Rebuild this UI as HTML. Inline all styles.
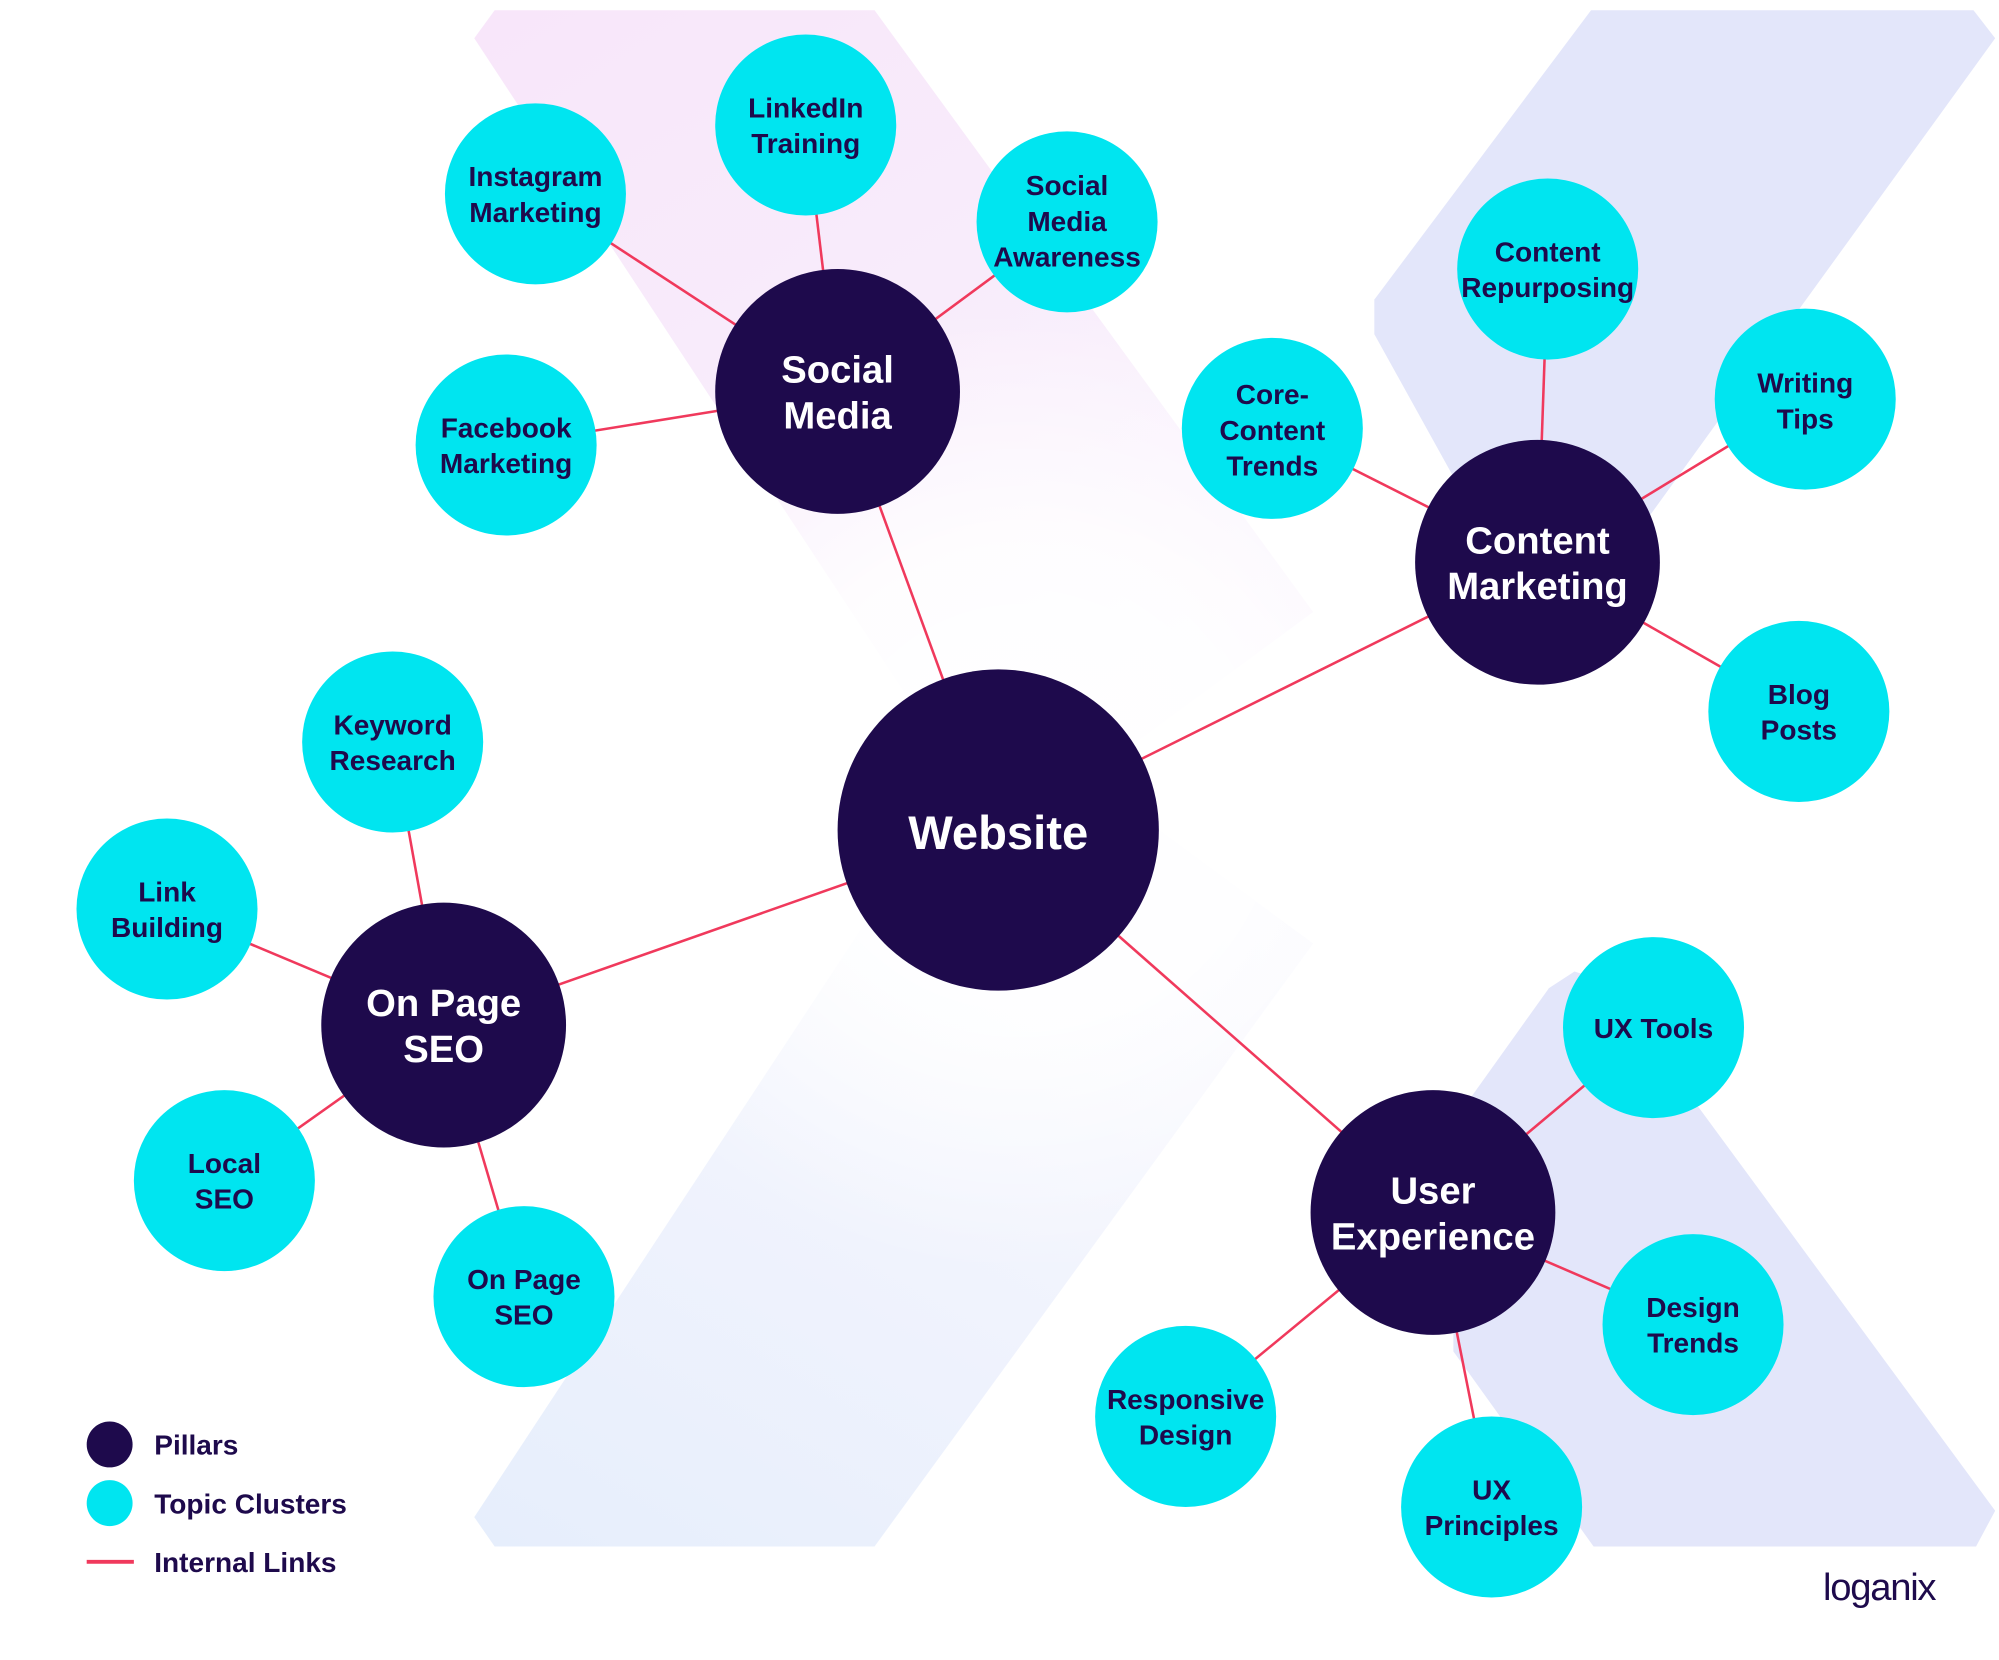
<!DOCTYPE html>
<html><head><meta charset="utf-8"><style>
html,body{margin:0;padding:0;background:#fff;}
svg{display:block;}
text{font-family:"Liberation Sans",sans-serif;font-weight:bold;text-anchor:middle;}
.t{fill:#1e0a4c;font-size:22px;}
.p{fill:#fff;font-size:30px;}
</style></head><body>
<svg width="1999" height="1660" viewBox="0 0 1568 1302" xmlns="http://www.w3.org/2000/svg">
<defs>
<linearGradient id="pk" x1="0" y1="0" x2="0.7" y2="1">
<stop offset="0" stop-color="#f8e6fa"/><stop offset="0.5" stop-color="#f8ecfb"/><stop offset="1" stop-color="#fbf6fe"/></linearGradient>
<linearGradient id="bl" x1="0" y1="1" x2="0.6" y2="0">
<stop offset="0" stop-color="#e6eefc"/><stop offset="0.5" stop-color="#f0f3fd"/><stop offset="1" stop-color="#f8f8fe"/></linearGradient>
<radialGradient id="wh" cx="800" cy="620" r="380" gradientUnits="userSpaceOnUse">
<stop offset="0" stop-color="#fff" stop-opacity="1"/><stop offset="0.5" stop-color="#fff" stop-opacity="0.85"/><stop offset="1" stop-color="#fff" stop-opacity="0"/></radialGradient>
</defs>
<rect width="1568" height="1302" fill="#fff"/>
<polygon points="372,30 388,8 686,8 1030,480 840,620 760,620" fill="url(#pk)"/>
<polygon points="372,1190 388,1213 686,1213 1030,740 840,600 760,600" fill="url(#bl)"/>
<rect x="380" y="250" width="840" height="740" fill="url(#wh)"/>
<polygon points="1248,8 1548,8 1565,30 1290,410 1160,410 1078,262 1078,235" fill="#e3e6fa"/>
<polygon points="1215,775 1235,762 1260,770 1565,1185 1550,1213 1250,1213 1140,1060 1140,880" fill="#e3e6fa"/>
<g stroke="#f0395c" stroke-width="2">
<line x1="783" y1="651" x2="657" y2="307"/><line x1="783" y1="651" x2="1206" y2="441"/>
<line x1="783" y1="651" x2="348" y2="804"/><line x1="783" y1="651" x2="1124" y2="951"/>
<line x1="657" y1="307" x2="420" y2="152"/><line x1="657" y1="307" x2="632" y2="98"/>
<line x1="657" y1="307" x2="837" y2="174"/><line x1="657" y1="307" x2="397" y2="349"/>
<line x1="1206" y1="441" x2="1214" y2="211"/><line x1="1206" y1="441" x2="998" y2="336"/>
<line x1="1206" y1="441" x2="1416" y2="313"/><line x1="1206" y1="441" x2="1411" y2="558"/>
<line x1="348" y1="804" x2="308" y2="582"/><line x1="348" y1="804" x2="131" y2="713"/>
<line x1="348" y1="804" x2="176" y2="926"/><line x1="348" y1="804" x2="411" y2="1017"/>
<line x1="1124" y1="951" x2="1297" y2="806"/><line x1="1124" y1="951" x2="1328" y2="1039"/>
<line x1="1124" y1="951" x2="1170" y2="1182"/><line x1="1124" y1="951" x2="930" y2="1111"/>
</g>
<g fill="#1e0a4c">
<circle cx="783" cy="651" r="126"/><circle cx="657" cy="307" r="96"/><circle cx="1206" cy="441" r="96"/>
<circle cx="348" cy="804" r="96"/><circle cx="1124" cy="951" r="96"/>
</g>
<g fill="#00e5f0">
<circle cx="420" cy="152" r="71"/><circle cx="632" cy="98" r="71"/><circle cx="837" cy="174" r="71"/><circle cx="397" cy="349" r="71"/>
<circle cx="1214" cy="211" r="71"/><circle cx="998" cy="336" r="71"/><circle cx="1416" cy="313" r="71"/><circle cx="1411" cy="558" r="71"/>
<circle cx="308" cy="582" r="71"/><circle cx="131" cy="713" r="71"/><circle cx="176" cy="926" r="71"/><circle cx="411" cy="1017" r="71"/>
<circle cx="1297" cy="806" r="71"/><circle cx="1328" cy="1039" r="71"/><circle cx="1170" cy="1182" r="71"/><circle cx="930" cy="1111" r="71"/>
</g>
<text x="783" y="666" fill="#fff" font-size="37">Website</text>
<text class="p" x="657" y="300">Social</text><text class="p" x="657" y="336">Media</text>
<text class="p" x="1206" y="434">Content</text><text class="p" x="1206" y="470">Marketing</text>
<text class="p" x="348" y="797">On Page</text><text class="p" x="348" y="833">SEO</text>
<text class="p" x="1124" y="944">User</text><text class="p" x="1124" y="980">Experience</text>
<text class="t" x="420" y="146">Instagram</text><text class="t" x="420" y="174">Marketing</text>
<text class="t" x="632" y="92">LinkedIn</text><text class="t" x="632" y="120">Training</text>
<text class="t" x="837" y="153">Social</text><text class="t" x="837" y="181">Media</text><text class="t" x="837" y="209">Awareness</text>
<text class="t" x="397" y="343">Facebook</text><text class="t" x="397" y="371">Marketing</text>
<text class="t" x="1214" y="205">Content</text><text class="t" x="1214" y="233">Repurposing</text>
<text class="t" x="998" y="317">Core-</text><text class="t" x="998" y="345">Content</text><text class="t" x="998" y="373">Trends</text>
<text class="t" x="1416" y="308">Writing</text><text class="t" x="1416" y="336">Tips</text>
<text class="t" x="1411" y="552">Blog</text><text class="t" x="1411" y="580">Posts</text>
<text class="t" x="308" y="576">Keyword</text><text class="t" x="308" y="604">Research</text>
<text class="t" x="131" y="707">Link</text><text class="t" x="131" y="735">Building</text>
<text class="t" x="176" y="920">Local</text><text class="t" x="176" y="948">SEO</text>
<text class="t" x="411" y="1011">On Page</text><text class="t" x="411" y="1039">SEO</text>
<text class="t" x="1297" y="814">UX Tools</text>
<text class="t" x="1328" y="1033">Design</text><text class="t" x="1328" y="1061">Trends</text>
<text class="t" x="1170" y="1176">UX</text><text class="t" x="1170" y="1204">Principles</text>
<text class="t" x="930" y="1105">Responsive</text><text class="t" x="930" y="1133">Design</text>
<circle cx="86" cy="1133" r="18" fill="#1e0a4c"/><circle cx="86" cy="1179" r="18" fill="#00e5f0"/>
<line x1="68" y1="1225" x2="105" y2="1225" stroke="#f0395c" stroke-width="3"/>
<text class="t" x="121" y="1141" style="text-anchor:start">Pillars</text>
<text class="t" x="121" y="1187" style="text-anchor:start">Topic Clusters</text>
<text class="t" x="121" y="1233" style="text-anchor:start">Internal Links</text>
<text x="1474" y="1255" fill="#1e0a4c" font-size="30" style="font-weight:normal;letter-spacing:-1px">loganix</text>
</svg>
</body></html>
